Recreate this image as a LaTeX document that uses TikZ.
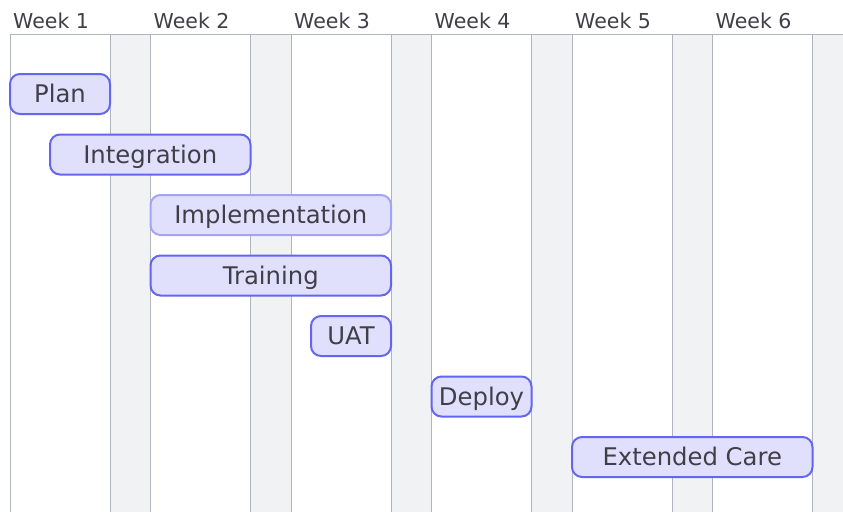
\documentclass[tikz,border=0pt]{standalone}
\usepackage{fontspec}
\setmainfont{DejaVu Sans}
\definecolor{gridline}{HTML}{B0B4BC}
\definecolor{weekend}{HTML}{F1F2F4}
\definecolor{barfill}{HTML}{E0E0FD}
\definecolor{barline}{HTML}{6466F1}
\definecolor{barlinelight}{HTML}{A3A4F6}
\definecolor{txt}{HTML}{3F3F48}
\tikzset{
  bar/.style={draw=barline, line width=2pt, fill=barfill, rounded corners=10pt,
    minimum height=40pt, inner sep=0pt, text height=17.5pt, text depth=0pt,
    text=txt, font=\fontsize{24.3}{28}\selectfont},
  weeklabel/.style={anchor=base west, inner sep=0pt, text=txt, font=\fontsize{20.5}{24}\selectfont},
}
\begin{document}
\begin{tikzpicture}[x=1pt,y=-1pt]
\useasboundingbox (0,0) rectangle (843,512);
\fill[white] (0,0) rectangle (843,512);
% weekend columns and grid
\foreach \i in {0,...,5}{
  \pgfmathsetmacro{\s}{10+140.5*\i}
  \fill[weekend] (\s+100,34) rectangle (\s+140.5,512);
  \draw[gridline, line width=1pt] (\s,34) -- (\s,512);
  \draw[gridline, line width=1pt] (\s+100,34) -- (\s+100,512);
  \node[weeklabel] (w\i) at (\s+3,28.5) {Week \the\numexpr\i+1\relax};
}
\fill[weekend] (812.5,34) rectangle (843,512);
\draw[gridline, line width=1pt] (10,34) -- (843,34);
% bars
\node[bar, minimum width=100pt] (plan) at (60,94) {Plan};
\node[bar, minimum width=200.5pt] (integ) at (150.25,154.5) {Integration};
\node[bar, draw=barlinelight, minimum width=240.5pt] (impl) at (270.75,215) {Implementation};
\node[bar, minimum width=240.5pt] (train) at (270.75,275.5) {Training};
\node[bar, minimum width=80pt] (uat) at (351,336) {UAT};
\node[bar, minimum width=100pt] (deploy) at (481.5,396.5) {Deploy};
\node[bar, minimum width=240.5pt] (care) at (692.25,457) {Extended Care};
\end{tikzpicture}
\end{document}
